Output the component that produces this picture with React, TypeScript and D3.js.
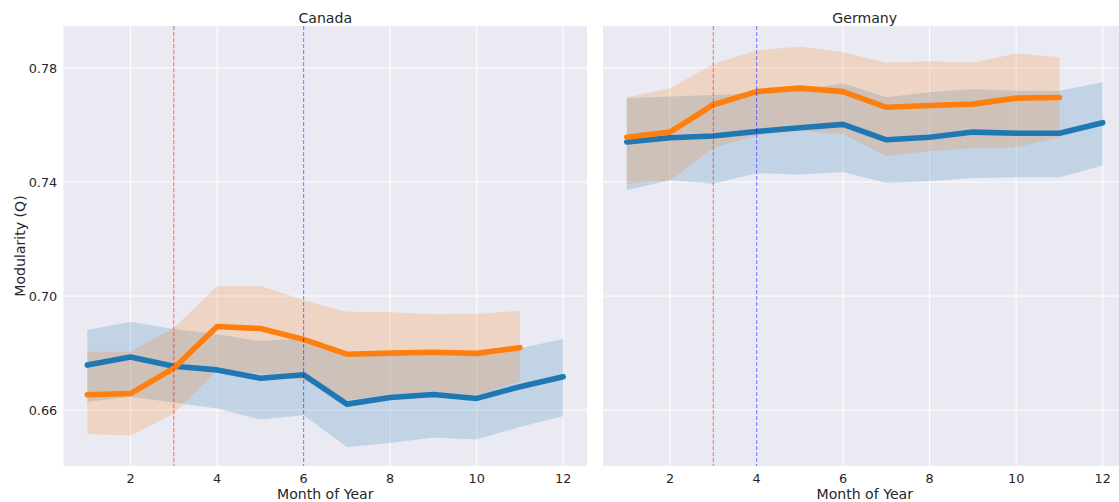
import * as d3 from "d3";

// month of year, 1..12
const months = [1, 2, 3, 4, 5, 6, 7, 8, 9, 10, 11, 12];
const xTicks = [2, 4, 6, 8, 10, 12];
const yTicks = [0.66, 0.7, 0.74, 0.78];

// Canada
const canadaBlueMean = [0.6758, 0.6786, 0.6754, 0.6741, 0.6712, 0.6724, 0.6621, 0.6644, 0.6655, 0.6641, 0.6682, 0.6717];
const canadaBlueLow = [0.6629, 0.6647, 0.6627, 0.6606, 0.6567, 0.6582, 0.6471, 0.6485, 0.6504, 0.6497, 0.6541, 0.6579];
const canadaBlueHigh = [0.6881, 0.691, 0.6884, 0.6866, 0.6842, 0.6852, 0.679, 0.6795, 0.68, 0.6798, 0.6817, 0.6849];
const canadaOrangeMean = [0.6654, 0.6658, 0.6747, 0.6893, 0.6886, 0.6848, 0.6796, 0.6800, 0.6803, 0.6799, 0.6819];
const canadaOrangeLow = [0.6516, 0.6511, 0.6588, 0.674, 0.6729, 0.6705, 0.6637, 0.6647, 0.6661, 0.6653, 0.670];
const canadaOrangeHigh = [0.6805, 0.6805, 0.6888, 0.7035, 0.7035, 0.6986, 0.6945, 0.6943, 0.6936, 0.6937, 0.6948];

// Germany
const germanyBlueMean = [0.754, 0.7555, 0.7561, 0.7577, 0.759, 0.7602, 0.7548, 0.7557, 0.7575, 0.7571, 0.7571, 0.7608];
const germanyBlueLow = [0.7371, 0.7406, 0.7394, 0.7431, 0.7426, 0.7435, 0.7396, 0.7403, 0.7414, 0.7417, 0.7417, 0.7458];
const germanyBlueHigh = [0.7694, 0.77, 0.7705, 0.7711, 0.7723, 0.7746, 0.7697, 0.7715, 0.7726, 0.772, 0.772, 0.775];
const germanyOrangeMean = [0.7557, 0.7575, 0.7671, 0.7717, 0.7729, 0.7717, 0.7662, 0.7668, 0.7673, 0.7694, 0.7696];
const germanyOrangeLow = [0.7393, 0.7405, 0.752, 0.7563, 0.7581, 0.7567, 0.7491, 0.7508, 0.7519, 0.7522, 0.7557];
const germanyOrangeHigh = [0.7697, 0.7729, 0.7814, 0.7861, 0.7875, 0.7855, 0.7818, 0.7823, 0.7818, 0.7851, 0.7837];

// policy marker months (red, blue)
const canadaMarkers = [3, 6];
const germanyMarkers = [3, 4];

const BLUE = "#1f77b4";
const ORANGE = "#ff7f0e";
const FONT = "'DejaVu Sans', sans-serif";
const TEXT = "#262626";

const top = 26;
const bottom = 466;
const y = d3.scaleLinear().domain([0.6404, 0.7947]).range([bottom, top]);

type Band = { mean: number[]; low: number[]; high: number[]; color: string };

function Panel({ x0, x1, title, bands, markers, showY }: {
  x0: number; x1: number; title: string; bands: Band[]; markers: number[]; showY: boolean;
}) {
  const x = d3.scaleLinear().domain([0.45, 12.55]).range([x0, x1]);
  const line = d3.line<number>().x((_, i) => x(months[i])).y((d) => y(d));

  return (
    <g>
      <rect x={x0} y={top} width={x1 - x0} height={bottom - top} fill="#eaeaf2" />
      {xTicks.map((t) => (
        <line key={"gx" + t} x1={x(t)} x2={x(t)} y1={top} y2={bottom} stroke="#fff" strokeWidth={1} />
      ))}
      {yTicks.map((t) => (
        <line key={"gy" + t} x1={x0} x2={x1} y1={y(t)} y2={y(t)} stroke="#fff" strokeWidth={1} />
      ))}

      {bands.map((b, k) => {
        const a = d3
          .area<number>()
          .x((_, i) => x(months[i]))
          .y0((_, i) => y(b.low[i]))
          .y1((d) => y(d));
        return <path key={"band" + k} d={a(b.high) || ""} fill={b.color} fillOpacity={0.2} />;
      })}
      {bands.map((b, k) => (
        <path
          key={"line" + k}
          d={line(b.mean) || ""}
          fill="none"
          stroke={b.color}
          strokeWidth={5.6}
          strokeLinejoin="round"
          strokeLinecap="round"
        />
      ))}

      {markers.map((m, k) => (
        <line
          key={"m" + k}
          x1={x(m)}
          x2={x(m)}
          y1={top}
          y2={bottom}
          stroke={k === 0 ? "red" : "blue"}
          strokeOpacity={0.5}
          strokeWidth={1.1}
          strokeDasharray="4.2,1.8"
        />
      ))}

      {xTicks.map((t) => (
        <text key={"tx" + t} x={x(t)} y={482.7} textAnchor="middle" fontSize={12.8} fill={TEXT} fontFamily={FONT}>
          {t}
        </text>
      ))}
      {showY &&
        yTicks.map((t) => (
          <text
            key={"ty" + t}
            x={x0 - 6.3}
            y={y(t)}
            dy="0.36em"
            textAnchor="end"
            fontSize={12.8}
            fill={TEXT}
            fontFamily={FONT}
          >
            {d3.format(".2f")(t)}
          </text>
        ))}
      <text x={(x0 + x1) / 2} y={499.3} textAnchor="middle" fontSize={14.1} fill={TEXT} fontFamily={FONT}>
        Month of Year
      </text>
      <text x={(x0 + x1) / 2} y={22.5} textAnchor="middle" fontSize={14.1} fill={TEXT} fontFamily={FONT}>
        {title}
      </text>
    </g>
  );
}

export default function App() {
  return (
    <svg
      width={1119}
      height={502}
      style={{ position: "absolute", left: 0, top: 0, background: "#fff" }}
    >
      <Panel
        x0={63.5}
        x1={587}
        title="Canada"
        showY={true}
        markers={canadaMarkers}
        bands={[
          { mean: canadaBlueMean, low: canadaBlueLow, high: canadaBlueHigh, color: BLUE },
          { mean: canadaOrangeMean, low: canadaOrangeLow, high: canadaOrangeHigh, color: ORANGE },
        ]}
      />
      <Panel
        x0={603}
        x1={1126.5}
        title="Germany"
        showY={false}
        markers={germanyMarkers}
        bands={[
          { mean: germanyBlueMean, low: germanyBlueLow, high: germanyBlueHigh, color: BLUE },
          { mean: germanyOrangeMean, low: germanyOrangeLow, high: germanyOrangeHigh, color: ORANGE },
        ]}
      />
      <text
        transform={`translate(24.5,${(top + bottom) / 2}) rotate(-90)`}
        textAnchor="middle"
        fontSize={14.1}
        fill={TEXT}
        fontFamily={FONT}
      >
        Modularity (Q)
      </text>
    </svg>
  );
}
